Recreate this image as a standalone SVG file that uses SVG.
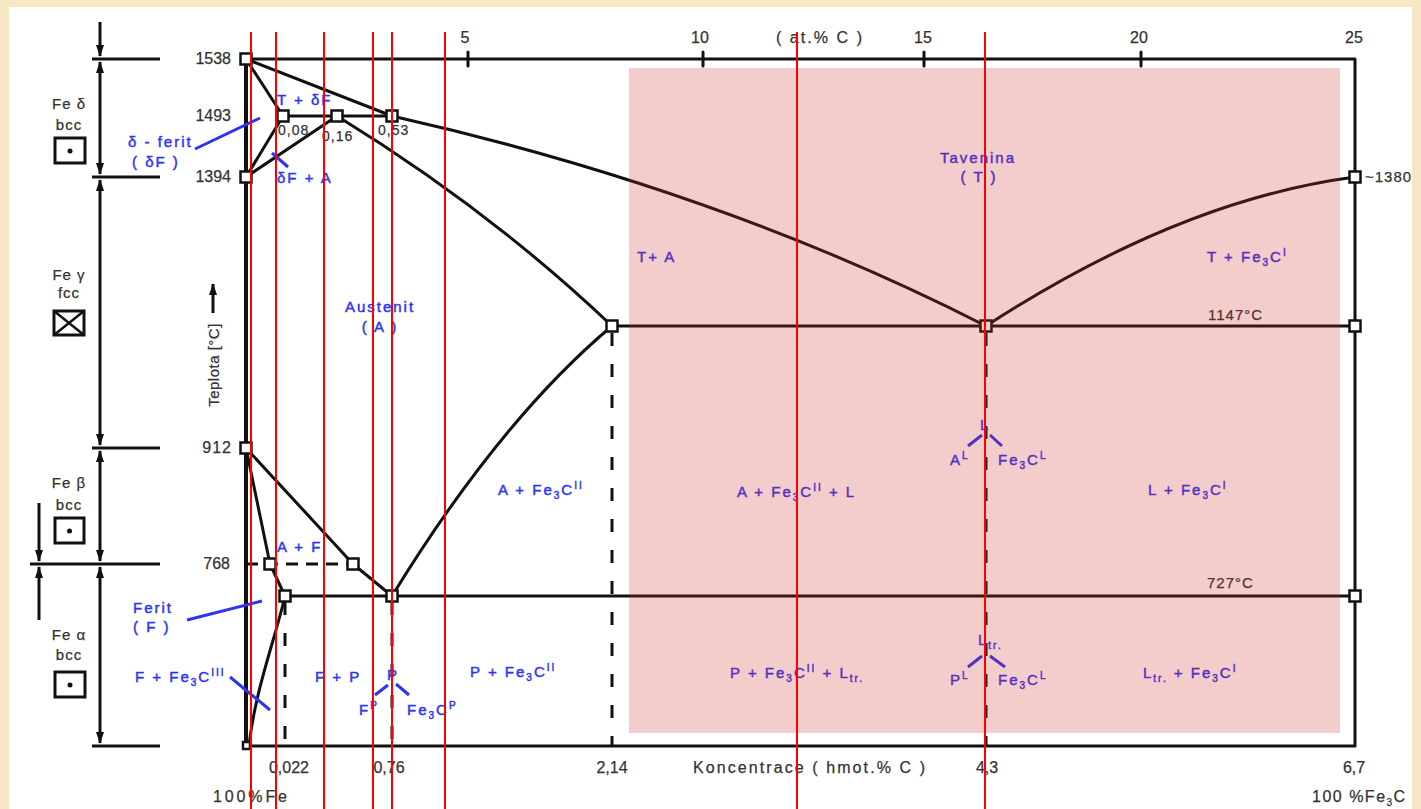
<svg xmlns="http://www.w3.org/2000/svg" width="1421" height="809" viewBox="0 0 1421 809">
<defs>
<style>
.ln{fill:none;stroke:#111;stroke-width:3;stroke-linejoin:round;stroke-linecap:round}
.dash{fill:none;stroke:#111;stroke-width:3;stroke-dasharray:13 18}
.pt{fill:#fff;stroke:#111;stroke-width:2.5}
.num{font-family:"Liberation Sans",Arial,sans-serif;font-size:16px;fill:#333;stroke:#333;stroke-width:0.25}
.gr{font-family:"Liberation Sans",Arial,sans-serif;font-size:15px;fill:#333;letter-spacing:1px;stroke:#333;stroke-width:0.25}
.lbl{font-family:"Liberation Sans",Arial,sans-serif;font-size:15px;fill:#2b35f2;letter-spacing:2px;stroke:#2b35f2;stroke-width:0.45}
.sm{font-size:10px}
.red{stroke:#ff0000;stroke-width:2}
.blu{stroke:#2b35f2;stroke-width:3;fill:none}
.arr{stroke:#111;stroke-width:3;fill:none}
</style>
<marker id="ah" viewBox="0 0 12 8" markerWidth="12" markerHeight="8" refX="11" refY="4" orient="auto-start-reverse" markerUnits="userSpaceOnUse"><path d="M0,0 L12,4 L0,8 z" fill="#111"/></marker>
</defs>
<rect x="0" y="0" width="1421" height="809" fill="#f6e8c4"/>
<rect x="9" y="7" width="1403" height="802" fill="#ffffff"/>

<g id="left-panel">
<path class="arr" d="M92,59 H160 M92,177 H160 M92,448 H160 M30,564 H160 M92,746 H160"/>
<path class="arr" d="M100,22 V56" marker-end="url(#ah)"/>
<path class="arr" d="M100,62 V174" marker-start="url(#ah)" marker-end="url(#ah)"/>
<path class="arr" d="M100,180 V445" marker-start="url(#ah)" marker-end="url(#ah)"/>
<path class="arr" d="M100,451 V561" marker-start="url(#ah)" marker-end="url(#ah)"/>
<path class="arr" d="M100,567 V743" marker-start="url(#ah)" marker-end="url(#ah)"/>
<path class="arr" d="M39,503 V561" marker-end="url(#ah)"/>
<path class="arr" d="M39,620 V567" marker-end="url(#ah)"/>
<g id="fe-delta">
<text class="gr" x="69" y="109" text-anchor="middle">Fe δ</text>
<text class="gr" x="69" y="130" text-anchor="middle">bcc</text>
<rect x="55" y="138" width="30" height="25" fill="none" stroke="#111" stroke-width="3"/>
<circle cx="70" cy="151" r="2.5" fill="#111"/>
</g>
<g id="fe-gamma">
<text class="gr" x="69" y="280" text-anchor="middle">Fe γ</text>
<text class="gr" x="69" y="298" text-anchor="middle">fcc</text>
<rect x="54" y="311" width="30" height="24" fill="none" stroke="#111" stroke-width="3"/>
<path d="M54,311 L84,335 M84,311 L54,335" stroke="#111" stroke-width="2.5"/>
</g>
<g id="fe-beta">
<text class="gr" x="69" y="488" text-anchor="middle">Fe β</text>
<text class="gr" x="69" y="510" text-anchor="middle">bcc</text>
<rect x="55" y="518" width="29" height="25" fill="none" stroke="#111" stroke-width="3"/>
<circle cx="69.5" cy="531" r="2.5" fill="#111"/>
</g>
<g id="fe-alpha">
<text class="gr" x="69" y="640" text-anchor="middle">Fe α</text>
<text class="gr" x="69" y="660" text-anchor="middle">bcc</text>
<rect x="55" y="672" width="30" height="25" fill="none" stroke="#111" stroke-width="3"/>
<circle cx="70" cy="685" r="2.5" fill="#111"/>
</g>
<g id="y-axis-title">
<path class="arr" d="M213,313 V284" marker-end="url(#ah)"/>
<text class="gr" x="0" y="0" transform="translate(219,365) rotate(-90)" text-anchor="middle" style="letter-spacing:0.5px">Teplota [°C]</text>
</g>
</g>

<g id="axes">
<path class="ln" d="M246,59 H1355 V746 H246 Z"/>
<path d="M246,59 V746" stroke="#111" stroke-width="4"/>
<path class="ln" d="M468,52 V66 M703,52 V66 M924,52 V66 M1141,52 V66"/>
<text class="num" x="465" y="43" text-anchor="middle">5</text>
<text class="num" x="700" y="43" text-anchor="middle">10</text>
<text class="num" x="776" y="43" textLength="86" lengthAdjust="spacing">( at.% C )</text>
<text class="num" x="923" y="43" text-anchor="middle">15</text>
<text class="num" x="1139" y="43" text-anchor="middle">20</text>
<text class="num" x="1354" y="43" text-anchor="middle">25</text>
<text class="num" x="231" y="64" text-anchor="end">1538</text>
<text class="num" x="231" y="121" text-anchor="end">1493</text>
<text class="num" x="231" y="182" text-anchor="end">1394</text>
<text class="num" x="232" y="453" text-anchor="end" style="letter-spacing:1px">912</text>
<text class="num" x="230" y="569" text-anchor="end">768</text>
<text class="num" x="289" y="773" text-anchor="middle">0,022</text>
<text class="num" x="389" y="773" text-anchor="middle">0,76</text>
<text class="num" x="612" y="773" text-anchor="middle">2,14</text>
<text class="num" x="693" y="773" textLength="232" lengthAdjust="spacing">Koncentrace ( hmot.% C )</text>
<text class="num" x="987" y="773" text-anchor="middle">4,3</text>
<text class="num" x="1354" y="773" text-anchor="middle">6,7</text>
<text class="num" x="213" y="802" textLength="74" lengthAdjust="spacing">100%Fe</text>
<text class="num" x="1312" y="802" style="letter-spacing:1.5px">100 %Fe<tspan class="sm" dy="4">3</tspan><tspan dy="-4">C</tspan></text>
</g>

<g id="connectors">
<path class="ln" d="M246,59 L392,116"/>
<path class="ln" d="M246,59 L283,116"/>
<path class="ln" d="M283,116 L392,116"/>
<path class="ln" d="M246,177 L283,116"/>
<path class="ln" d="M246,177 L337,116"/>
<path class="ln" d="M337,116 Q490,210 612,326"/>
<path class="ln" d="M392,116 Q720,190 986,326"/>
<path class="ln" d="M986,326 Q1180,200 1355,177"/>
<path class="ln" d="M612,326 L1355,326"/>
<path class="ln" d="M612,326 Q500,420 392,596"/>
<path class="ln" d="M246,448 L353,564 L392,596"/>
<path class="ln" d="M246,448 L270,564 L285,596"/>
<path class="ln" d="M285,596 L1355,596"/>
<path class="ln" d="M285,596 C275,640 255,690 249,746"/>
<path class="ln" d="M246,564 L353,564" style="stroke-dasharray:12 8;stroke-linecap:butt"/>
<path class="dash" d="M285,602 V746"/>
<path class="dash" d="M392,602 V746"/>
<path class="dash" d="M612,333 V746"/>
<path class="dash" d="M986,333 V746"/>
</g>

<g id="points">
<rect class="pt" x="240.5" y="53.5" width="11" height="11"/>
<rect class="pt" x="277.5" y="110.5" width="11" height="11"/>
<rect class="pt" x="331.5" y="110.5" width="11" height="11"/>
<rect class="pt" x="386.5" y="110.5" width="11" height="11"/>
<rect class="pt" x="240.5" y="171.5" width="11" height="11"/>
<rect class="pt" x="606.5" y="320.5" width="11" height="11"/>
<rect class="pt" x="980.5" y="320.5" width="11" height="11"/>
<rect class="pt" x="1349.5" y="320.5" width="11" height="11"/>
<rect class="pt" x="1349.5" y="171.5" width="11" height="11"/>
<rect class="pt" x="240.5" y="442.5" width="11" height="11"/>
<rect class="pt" x="264.5" y="558.5" width="11" height="11"/>
<rect class="pt" x="347.5" y="558.5" width="11" height="11"/>
<rect class="pt" x="279.5" y="590.5" width="11" height="11"/>
<rect class="pt" x="386.5" y="590.5" width="11" height="11"/>
<rect class="pt" x="1349.5" y="590.5" width="11" height="11"/>
<rect class="pt" x="243" y="742" width="7" height="7" stroke-width="1.5"/>
</g>

<g id="point-labels">
<text class="gr" x="278" y="135" style="font-size:14px">0,08</text>
<text class="gr" x="322" y="141" style="font-size:14px">0,16</text>
<text class="gr" x="378" y="135" style="font-size:14px">0,53</text>
<text class="gr" x="1208" y="320">1147°C</text>
<text class="gr" x="1207" y="588">727°C</text>
<text class="gr" x="1365" y="182">~1380</text>
</g>

<g id="phase-labels">
<g id="lbl-t-df"><text class="lbl" x="277" y="105">T + δF</text></g>
<g id="lbl-dferit">
<text class="lbl" x="128" y="147">δ - ferit</text>
<text class="lbl" x="132" y="167">( δF )</text>
<path class="blu" d="M195,149 L260,118"/>
</g>
<g id="lbl-df-a">
<text class="lbl" x="277" y="183">δF + A</text>
<path class="blu" d="M272,153 L288,167"/>
</g>
<g id="lbl-austenit">
<text class="lbl" x="380" y="312" text-anchor="middle">Austenit</text>
<text class="lbl" x="380" y="332" text-anchor="middle">( A )</text>
</g>
<g id="lbl-t-a"><text class="lbl" x="637" y="262">T+ A</text></g>
<g id="lbl-tavenina">
<text class="lbl" x="978" y="163" text-anchor="middle">Tavenina</text>
<text class="lbl" x="979" y="182" text-anchor="middle">( T )</text>
</g>
<g id="lbl-t-fe3c"><text class="lbl" x="1207" y="262">T + Fe<tspan class="sm" dy="4">3</tspan><tspan dy="-4">C</tspan><tspan class="sm" dy="-6">I</tspan></text></g>
<g id="lbl-a-fe3c"><text class="lbl" x="498" y="495">A + Fe<tspan class="sm" dy="4">3</tspan><tspan dy="-4">C</tspan><tspan class="sm" dy="-6">II</tspan></text></g>
<g id="lbl-a-fe3c-l"><text class="lbl" x="737" y="497">A + Fe<tspan class="sm" dy="4">3</tspan><tspan dy="-4">C</tspan><tspan class="sm" dy="-6">II</tspan><tspan dy="6"> + L</tspan></text></g>
<g id="lbl-ledeburite">
<text class="lbl" x="980" y="430">L</text>
<path class="blu" d="M968,446 L982,435 M990,435 L1002,446"/>
<text class="lbl" x="950" y="465">A<tspan class="sm" dy="-6">L</tspan></text>
<text class="lbl" x="998" y="465">Fe<tspan class="sm" dy="4">3</tspan><tspan dy="-4">C</tspan><tspan class="sm" dy="-6">L</tspan></text>
</g>
<g id="lbl-l-fe3c"><text class="lbl" x="1148" y="495">L + Fe<tspan class="sm" dy="4">3</tspan><tspan dy="-4">C</tspan><tspan class="sm" dy="-6">I</tspan></text></g>
<g id="lbl-a-f"><text class="lbl" x="277" y="552">A + F</text></g>
<g id="lbl-ferit">
<text class="lbl" x="133" y="613">Ferit</text>
<text class="lbl" x="133" y="632">( F )</text>
<path class="blu" d="M187,620 L262,601"/>
</g>
<g id="lbl-f-fe3c">
<text class="lbl" x="135" y="682">F + Fe<tspan class="sm" dy="4">3</tspan><tspan dy="-4">C</tspan><tspan class="sm" dy="-6">III</tspan></text>
<path class="blu" d="M230,677 L270,710"/>
</g>
<g id="lbl-f-p"><text class="lbl" x="315" y="682">F + P</text></g>
<g id="lbl-perlit">
<text class="lbl" x="387" y="680">P</text>
<path class="blu" d="M375,695 L388,685 M396,684 L409,695"/>
<text class="lbl" x="359" y="715">F<tspan class="sm" dy="-6">P</tspan></text>
<text class="lbl" x="407" y="715">Fe<tspan class="sm" dy="4">3</tspan><tspan dy="-4">C</tspan><tspan class="sm" dy="-6">P</tspan></text>
</g>
<g id="lbl-p-fe3c"><text class="lbl" x="470" y="677">P + Fe<tspan class="sm" dy="4">3</tspan><tspan dy="-4">C</tspan><tspan class="sm" dy="-6">II</tspan></text></g>
<g id="lbl-p-fe3c-ltr"><text class="lbl" x="730" y="678">P + Fe<tspan class="sm" dy="4">3</tspan><tspan dy="-4">C</tspan><tspan class="sm" dy="-6">II</tspan><tspan dy="6"> + L</tspan><tspan class="sm" dy="4">tr.</tspan></text></g>
<g id="lbl-ltr">
<text class="lbl" x="978" y="645">L<tspan class="sm" dy="4">tr.</tspan></text>
<path class="blu" d="M968,667 L982,656 M990,656 L1005,667"/>
<text class="lbl" x="950" y="685">P<tspan class="sm" dy="-6">L</tspan></text>
<text class="lbl" x="998" y="685">Fe<tspan class="sm" dy="4">3</tspan><tspan dy="-4">C</tspan><tspan class="sm" dy="-6">L</tspan></text>
</g>
<g id="lbl-ltr-fe3c"><text class="lbl" x="1143" y="678">L<tspan class="sm" dy="4">tr.</tspan><tspan dy="-4"> + Fe</tspan><tspan class="sm" dy="4">3</tspan><tspan dy="-4">C</tspan><tspan class="sm" dy="-6">I</tspan></text></g>
</g>

<rect id="highlight" x="629" y="68" width="711" height="665" fill="rgb(204,42,42)" opacity="0.24"/>

<g id="red-lines" class="red">
<path d="M251,32 V809 M276,32 V809 M324,32 V809 M373,32 V809 M392,32 V809 M445,32 V809 M797,32 V809 M985,32 V809"/>
</g>
</svg>
